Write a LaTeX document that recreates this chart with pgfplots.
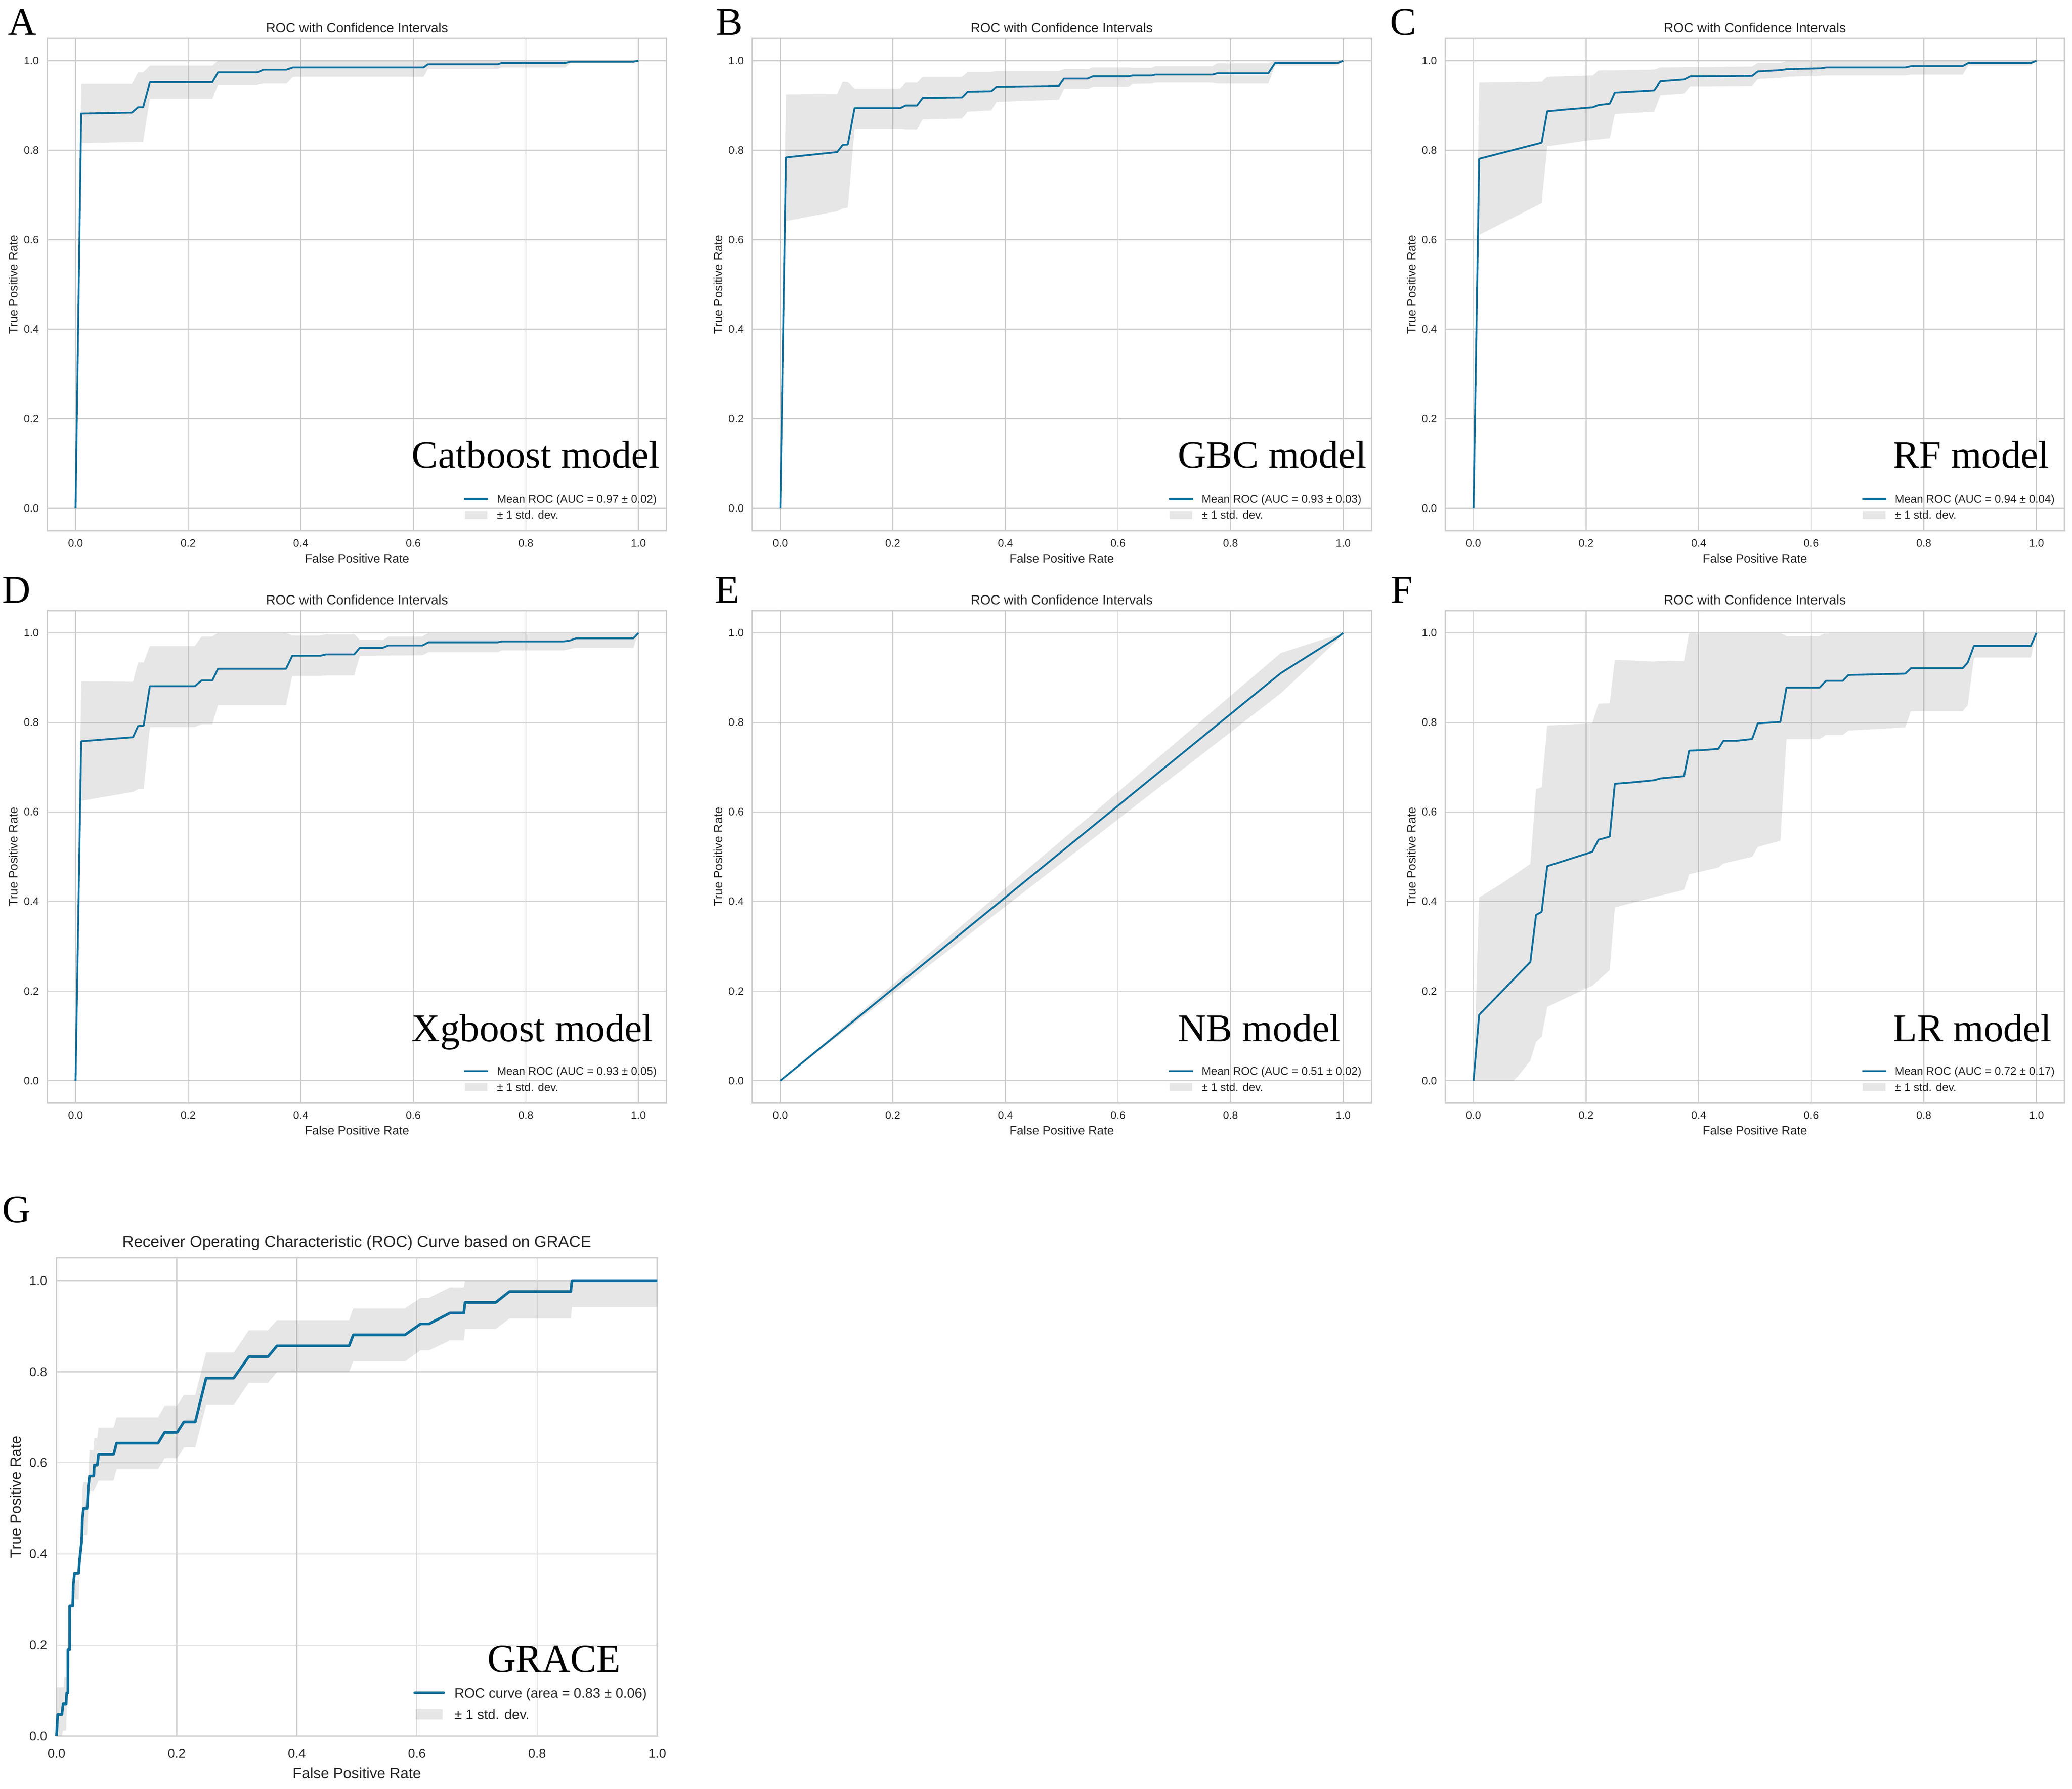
\documentclass[border=0pt]{standalone}
\usepackage{fontspec}
\setmainfont{Liberation Sans}
\newfontfamily\serifbig{Liberation Serif}
\usepackage{pgfplots}
\pgfplotsset{compat=1.18}
\definecolor{rocblue}{HTML}{0D6E9B}
\definecolor{gridc}{HTML}{CCCCCC}
\definecolor{txtc}{HTML}{262626}
\newcommand\fTick{\fontsize{8.1}{10}\selectfont}
\newcommand\fLab{\fontsize{9.1}{11}\selectfont}
\newcommand\fTitle{\fontsize{10}{12}\selectfont}
\newcommand\fLeg{\fontsize{8.45}{10}\selectfont}
\newcommand\fBig{\serifbig\fontsize{29.5}{32}\selectfont}
\newcommand\fTickG{\fontsize{9.6}{12}\selectfont}
\newcommand\fLabG{\fontsize{11.2}{14}\selectfont}
\newcommand\fTitleG{\fontsize{12}{15}\selectfont}
\newcommand\fLegG{\fontsize{10.3}{13}\selectfont}
\pgfplotsset{
  common/.style={
    scale only axis, anchor=north west, clip=false,
    xtick={0,0.2,0.4,0.6,0.8,1}, ytick={0,0.2,0.4,0.6,0.8,1},
    xticklabels={0.0,0.2,0.4,0.6,0.8,1.0}, yticklabels={0.0,0.2,0.4,0.6,0.8,1.0},
    grid=major, grid style={gridc, line width=0.8pt},
    axis line style={gridc, line width=1pt},
    major tick length=0pt,
    legend cell align=left,
  },
  panel/.style={
    common, width=464.8pt, height=369.6pt,
    xmin=-0.05, xmax=1.05, ymin=-0.05, ymax=1.05,
    tick label style={font=\fTick, text=txtc, inner sep=0pt},
    xticklabel style={anchor=base, yshift=-12pt},
    yticklabel style={anchor=east, xshift=-6.2pt},
    legend style={draw=none, fill=none, font=\fLeg, text=txtc, at={(rel axis cs:1,0)}, anchor=south east, xshift=-7.4pt, yshift=7pt, inner sep=0pt, outer sep=0pt, row sep=3pt, nodes={inner sep=0pt, text height=7pt, text depth=2pt}},
  },
  roc/.style={rocblue, line width=1.35pt, line join=round, mark=none,
    legend image code/.code={\path[draw=none, fill=none] (0pt,-4pt) rectangle (24.6pt,4pt); \draw[##1] (0pt,0.5pt) -- (18pt,0.5pt);}},
  band/.style={fill=gray, fill opacity=0.2, draw=none},
  bandleg/.style={legend image code/.code={\path[draw=none, fill=none] (0pt,-4pt) rectangle (24.6pt,4pt); \fill[gray, fill opacity=0.2, draw=none] (0.5pt,-2.5pt) rectangle (17.5pt,3.3pt);}},
  rocG/.style={rocblue, line width=2pt, line join=round, mark=none,
    legend image code/.code={\path[draw=none, fill=none] (0pt,-5pt) rectangle (29.8pt,5pt); \draw[##1, line cap=round] (0pt,1pt) -- (21.8pt,1pt);}},
  bandlegG/.style={legend image code/.code={\path[draw=none, fill=none] (0pt,-5pt) rectangle (29.8pt,5pt); \fill[gray, fill opacity=0.2, draw=none] (0.8pt,-3pt) rectangle (20.8pt,4.6pt);}},
}
\newcommand\rocdeco[3]{%
  \node[font=\fTitle, text=txtc, anchor=base, inner sep=0pt] at ([yshift=4.4pt]rel axis cs:0.5,1) {ROC with Confidence Intervals};
  \node[font=\fLab, text=txtc, anchor=base, inner sep=0pt] at ([yshift=-23.8pt]rel axis cs:0.5,0) {False Positive Rate};
  \node[font=\fLab, text=txtc, rotate=90, anchor=center, inner sep=0pt] at ([xshift=-25.6pt]rel axis cs:0,0.5) {True Positive Rate};
  \node[font=\fBig, anchor=base west, inner sep=0pt] at (axis cs:#2,#3) {#1};
}
\begin{document}
\begin{tikzpicture}
\path[use as bounding box] (0pt,0pt) rectangle (1555.4pt,-1342.4pt);
\node[font=\fBig, anchor=base west, inner sep=0pt] at (6pt,-26.2pt) {A};
\node[font=\fBig, anchor=base west, inner sep=0pt] at (537.4pt,-26.2pt) {B};
\node[font=\fBig, anchor=base west, inner sep=0pt] at (1043.4pt,-26.2pt) {C};
\node[font=\fBig, anchor=base west, inner sep=0pt] at (1.6pt,-452.6pt) {D};
\node[font=\fBig, anchor=base west, inner sep=0pt] at (536.6pt,-452.6pt) {E};
\node[font=\fBig, anchor=base west, inner sep=0pt] at (1044pt,-452.6pt) {F};
\node[font=\fBig, anchor=base west, inner sep=0pt] at (1.6pt,-917.6pt) {G};

% ---------------- A ----------------
\begin{axis}[panel, at={(35.6pt,-28.8pt)}]
\addplot[band, forget plot] coordinates {(0,0) (0.010,0.948) (0.100,0.948) (0.111,0.974) (0.120,0.974) (0.132,0.989) (0.243,0.989) (0.253,1.0) (1,1)
 (0.991,0.995) (0.879,0.995) (0.870,0.985) (0.757,0.985) (0.750,0.982) (0.626,0.982) (0.618,0.964) (0.386,0.964) (0.375,0.949) (0.334,0.949) (0.323,0.946) (0.253,0.946) (0.243,0.915) (0.132,0.915) (0.120,0.819) (0.010,0.816) (0,0)};
\addplot[roc] coordinates {(0,0) (0.010,0.882) (0.100,0.884) (0.111,0.896) (0.120,0.896) (0.132,0.952) (0.243,0.952) (0.253,0.974) (0.323,0.974) (0.334,0.980) (0.375,0.980) (0.386,0.985) (0.618,0.985) (0.626,0.992) (0.750,0.992) (0.757,0.995) (0.870,0.995) (0.879,0.998) (0.991,0.998) (1,1)};
\addlegendentry{Mean ROC (AUC = 0.97 ± 0.02)}
\addlegendimage{bandleg}
\addlegendentry{± 1 std. dev.}
\rocdeco{Catboost model}{0.597}{0.09}
\end{axis}

% ---------------- B ----------------
\begin{axis}[panel, at={(564.6pt,-28.8pt)}]
\addplot[band, forget plot] coordinates {(0,0) (0.010,0.925) (0.101,0.926) (0.111,0.953) (0.120,0.952) (0.132,0.938) (0.213,0.938) (0.223,0.951) (0.243,0.951) (0.253,0.964) (0.323,0.964) (0.333,0.975) (0.375,0.975) (0.384,0.977) (0.495,0.977) (0.504,0.981) (0.546,0.981) (0.555,0.985) (0.618,0.985) (0.626,0.984) (0.660,0.984) (0.666,0.988) (0.768,0.988) (0.776,0.994) (0.867,0.994) (0.879,1.0) (1,1)
 (0.990,0.989) (0.879,0.989) (0.867,0.949) (0.776,0.949) (0.768,0.951) (0.666,0.951) (0.660,0.949) (0.626,0.948) (0.618,0.942) (0.555,0.942) (0.546,0.937) (0.504,0.937) (0.495,0.913) (0.384,0.908) (0.375,0.889) (0.333,0.886) (0.323,0.871) (0.253,0.869) (0.243,0.847) (0.223,0.847) (0.213,0.848) (0.132,0.848) (0.120,0.672) (0.111,0.670) (0.101,0.664) (0.010,0.642) (0,0)};
\addplot[roc] coordinates {(0,0) (0.010,0.784) (0.101,0.796) (0.111,0.812) (0.120,0.813) (0.132,0.894) (0.213,0.894) (0.223,0.900) (0.243,0.900) (0.253,0.917) (0.323,0.918) (0.333,0.931) (0.375,0.932) (0.384,0.942) (0.495,0.944) (0.504,0.960) (0.546,0.960) (0.555,0.965) (0.618,0.965) (0.626,0.967) (0.660,0.967) (0.666,0.969) (0.768,0.969) (0.776,0.972) (0.867,0.972) (0.879,0.995) (0.990,0.995) (1,1)};
\addlegendentry{Mean ROC (AUC = 0.93 ± 0.03)}
\addlegendimage{bandleg}
\addlegendentry{± 1 std. dev.}
\rocdeco{GBC model}{0.706}{0.09}
\end{axis}

% ---------------- C ----------------
\begin{axis}[panel, at={(1085pt,-28.8pt)}]
\addplot[band, forget plot] coordinates {(0,0) (0.010,0.951) (0.121,0.953) (0.131,0.964) (0.212,0.967) (0.222,0.978) (0.321,0.980) (0.332,0.985) (0.495,0.987) (0.505,0.995) (0.546,0.995) (0.556,0.999) (0.620,1.0) (1,1)
 (0.990,0.989) (0.879,0.989) (0.869,0.969) (0.778,0.969) (0.767,0.967) (0.627,0.967) (0.556,0.964) (0.546,0.962) (0.505,0.959) (0.495,0.944) (0.385,0.943) (0.374,0.927) (0.332,0.923) (0.321,0.886) (0.251,0.881) (0.242,0.827) (0.203,0.822) (0.131,0.809) (0.121,0.682) (0.010,0.611) (0,0)};
\addplot[roc] coordinates {(0,0) (0.010,0.781) (0.121,0.817) (0.131,0.887) (0.164,0.891) (0.203,0.895) (0.212,0.896) (0.222,0.901) (0.242,0.904) (0.251,0.929) (0.321,0.934) (0.332,0.954) (0.374,0.958) (0.385,0.965) (0.495,0.966) (0.505,0.976) (0.546,0.979) (0.556,0.981) (0.617,0.983) (0.627,0.985) (0.767,0.985) (0.778,0.988) (0.869,0.988) (0.879,0.995) (0.990,0.995) (1,1)};
\addlegendentry{Mean ROC (AUC = 0.94 ± 0.04)}
\addlegendimage{bandleg}
\addlegendentry{± 1 std. dev.}
\rocdeco{RF model}{0.745}{0.09}
\end{axis}

% ---------------- D ----------------
\begin{axis}[panel, at={(35.6pt,-458.2pt)}]
\addplot[band, forget plot] coordinates {(0,0) (0.010,0.892) (0.102,0.891) (0.111,0.934) (0.121,0.934) (0.132,0.971) (0.212,0.971) (0.224,0.992) (0.243,0.992) (0.253,1.0) (0.374,1.0) (0.385,0.994) (0.435,0.994) (0.445,0.998) (0.495,0.998) (0.505,0.984) (0.546,0.984) (0.556,0.992) (0.616,0.992) (0.627,1.0) (1,1)
 (0.991,0.967) (0.889,0.967) (0.867,0.961) (0.757,0.961) (0.750,0.957) (0.627,0.957) (0.616,0.950) (0.505,0.949) (0.495,0.905) (0.445,0.905) (0.435,0.904) (0.385,0.904) (0.374,0.839) (0.253,0.839) (0.243,0.796) (0.224,0.796) (0.212,0.790) (0.132,0.790) (0.121,0.651) (0.111,0.651) (0.102,0.645) (0.010,0.625) (0,0)};
\addplot[roc] coordinates {(0,0) (0.010,0.758) (0.102,0.767) (0.111,0.792) (0.121,0.793) (0.132,0.881) (0.212,0.881) (0.224,0.894) (0.243,0.894) (0.253,0.920) (0.374,0.920) (0.385,0.949) (0.435,0.949) (0.445,0.952) (0.495,0.952) (0.505,0.967) (0.546,0.967) (0.556,0.972) (0.616,0.972) (0.627,0.979) (0.750,0.979) (0.757,0.981) (0.867,0.981) (0.878,0.983) (0.889,0.988) (0.991,0.988) (1,1)};
\addlegendentry{Mean ROC (AUC = 0.93 ± 0.05)}
\addlegendimage{bandleg}
\addlegendentry{± 1 std. dev.}
\rocdeco{Xgboost model}{0.597}{0.088}
\end{axis}

% ---------------- E ----------------
\begin{axis}[panel, at={(564.6pt,-458.2pt)}]
\addplot[band, forget plot] coordinates {(0,0) (0.889,0.955) (0.990,0.996) (1,1) (0.990,0.984) (0.889,0.865) (0,0)};
\addplot[roc] coordinates {(0,0) (0.889,0.910) (0.990,0.990) (1,1)};
\addlegendentry{Mean ROC (AUC = 0.51 ± 0.02)}
\addlegendimage{bandleg}
\addlegendentry{± 1 std. dev.}
\rocdeco{NB model}{0.706}{0.088}
\end{axis}

% ---------------- F ----------------
\begin{axis}[panel, at={(1085pt,-458.2pt)}]
\addplot[band, forget plot] coordinates {(0,0) (0.010,0.409) (0.050,0.440) (0.101,0.484) (0.111,0.651) (0.121,0.655) (0.131,0.793) (0.211,0.798) (0.222,0.842) (0.242,0.843) (0.251,0.940) (0.321,0.936) (0.332,0.938) (0.374,0.937) (0.383,1.0) (0.545,1.0) (0.556,0.993) (0.615,0.993) (0.626,1.0) (1,1)
 (0.990,0.945) (0.889,0.945) (0.878,0.839) (0.869,0.825) (0.777,0.825) (0.767,0.789) (0.666,0.782) (0.656,0.772) (0.626,0.772) (0.615,0.763) (0.556,0.763) (0.545,0.536) (0.505,0.522) (0.495,0.500) (0.444,0.485) (0.435,0.476) (0.383,0.461) (0.374,0.426) (0.321,0.410) (0.251,0.387) (0.242,0.247) (0.211,0.212) (0.131,0.165) (0.121,0.098) (0.111,0.087) (0.101,0.045) (0.079,0.010) (0.071,0.0) (0.010,0.0) (0,0)};
\addplot[roc] coordinates {(0,0) (0.010,0.147) (0.101,0.265) (0.111,0.370) (0.121,0.377) (0.131,0.479) (0.211,0.511) (0.222,0.538) (0.242,0.545) (0.251,0.663) (0.281,0.666) (0.321,0.671) (0.332,0.675) (0.374,0.680) (0.383,0.737) (0.405,0.738) (0.435,0.741) (0.444,0.759) (0.467,0.759) (0.495,0.763) (0.505,0.798) (0.545,0.801) (0.556,0.878) (0.615,0.878) (0.626,0.893) (0.656,0.893) (0.666,0.906) (0.767,0.909) (0.777,0.921) (0.869,0.921) (0.878,0.934) (0.889,0.971) (0.990,0.971) (1,1)};
\addlegendentry{Mean ROC (AUC = 0.72 ± 0.17)}
\addlegendimage{bandleg}
\addlegendentry{± 1 std. dev.}
\rocdeco{LR model}{0.745}{0.088}
\end{axis}

% ---------------- G ----------------
\begin{axis}[common, width=451pt, height=359pt, at={(42.4pt,-944pt)},
  xmin=0, xmax=1, ymin=0, ymax=1.05,
  tick label style={font=\fTickG, text=txtc, inner sep=0pt},
  xticklabel style={anchor=base, yshift=-16.2pt},
  yticklabel style={anchor=east, xshift=-6.8pt},
  legend style={draw=none, fill=none, font=\fLegG, text=txtc, at={(rel axis cs:1,0)}, anchor=south east, xshift=-7.8pt, yshift=10.3pt, inner sep=0pt, outer sep=0pt, row sep=4.8pt, nodes={inner sep=0pt, text height=8.5pt, text depth=2.5pt}}]
\addplot[band, forget plot] coordinates {(0,0.107) (0.012,0.107) (0.013,0.13) (0.017,0.13) (0.019,0.23) (0.027,0.23) (0.028,0.343) (0.037,0.343) (0.038,0.415) (0.042,0.415) (0.043,0.541) (0.045,0.558) (0.053,0.558) (0.055,0.629) (0.062,0.629) (0.063,0.654) (0.068,0.654) (0.070,0.677) (0.095,0.677) (0.100,0.70) (0.169,0.70) (0.180,0.725) (0.201,0.725) (0.212,0.749) (0.231,0.749) (0.249,0.842) (0.295,0.842) (0.320,0.891) (0.352,0.891) (0.367,0.913) (0.487,0.913) (0.494,0.939) (0.580,0.939) (0.606,0.962) (0.620,0.962) (0.655,0.985) (0.678,0.985) (0.680,1.0) (1.0,1.0)
 (1.0,0.942) (0.858,0.942) (0.856,0.917) (0.754,0.917) (0.731,0.894) (0.680,0.894) (0.678,0.869) (0.655,0.869) (0.620,0.847) (0.606,0.847) (0.580,0.823) (0.494,0.823) (0.487,0.799) (0.367,0.799) (0.352,0.776) (0.320,0.776) (0.295,0.727) (0.249,0.727) (0.231,0.634) (0.212,0.634) (0.201,0.61) (0.180,0.61) (0.169,0.586) (0.100,0.586) (0.095,0.561) (0.070,0.561) (0.062,0.538) (0.055,0.538) (0.053,0.50) (0.051,0.442) (0.045,0.442) (0.043,0.42) (0.042,0.40) (0.038,0.35) (0.037,0.30) (0.028,0.30) (0.027,0.23) (0.022,0.23) (0.022,0.15) (0.019,0.15) (0.017,0.05) (0.016,0.012) (0.011,0.012) (0.009,0) (0,0)};
\addplot[rocG] coordinates {(0,0) (0.002,0.048) (0.009,0.048) (0.011,0.071) (0.016,0.071) (0.017,0.095) (0.019,0.095) (0.019,0.190) (0.022,0.190) (0.022,0.286) (0.027,0.286) (0.028,0.333) (0.030,0.357) (0.037,0.357) (0.038,0.381) (0.042,0.429) (0.043,0.476) (0.045,0.500) (0.051,0.500) (0.052,0.524) (0.053,0.548) (0.055,0.571) (0.062,0.571) (0.063,0.595) (0.068,0.595) (0.070,0.619) (0.095,0.619) (0.100,0.643) (0.169,0.643) (0.180,0.667) (0.201,0.667) (0.212,0.690) (0.231,0.690) (0.249,0.786) (0.295,0.786) (0.320,0.833) (0.352,0.833) (0.367,0.857) (0.487,0.857) (0.494,0.881) (0.580,0.881) (0.606,0.905) (0.620,0.905) (0.655,0.929) (0.678,0.929) (0.680,0.952) (0.731,0.952) (0.754,0.976) (0.856,0.976) (0.858,1.0) (1.0,1.0)};
\addlegendentry{ROC curve (area = 0.83 ± 0.06)}
\addlegendimage{bandlegG}
\addlegendentry{± 1 std. dev.}
\node[font=\fTitleG, text=txtc, anchor=base, inner sep=0pt] at ([yshift=8.2pt]rel axis cs:0.5,1) {Receiver Operating Characteristic (ROC) Curve based on GRACE};
\node[font=\fLabG, text=txtc, anchor=base, inner sep=0pt] at ([yshift=-31.8pt]rel axis cs:0.5,0) {False Positive Rate};
\node[font=\fLabG, text=txtc, rotate=90, anchor=center, inner sep=0pt] at ([xshift=-30.8pt]rel axis cs:0,0.5) {True Positive Rate};
\node[font=\fBig, anchor=base west, inner sep=0pt] at (axis cs:0.717,0.141) {GRACE};
\end{axis}
\end{tikzpicture}
\end{document}
